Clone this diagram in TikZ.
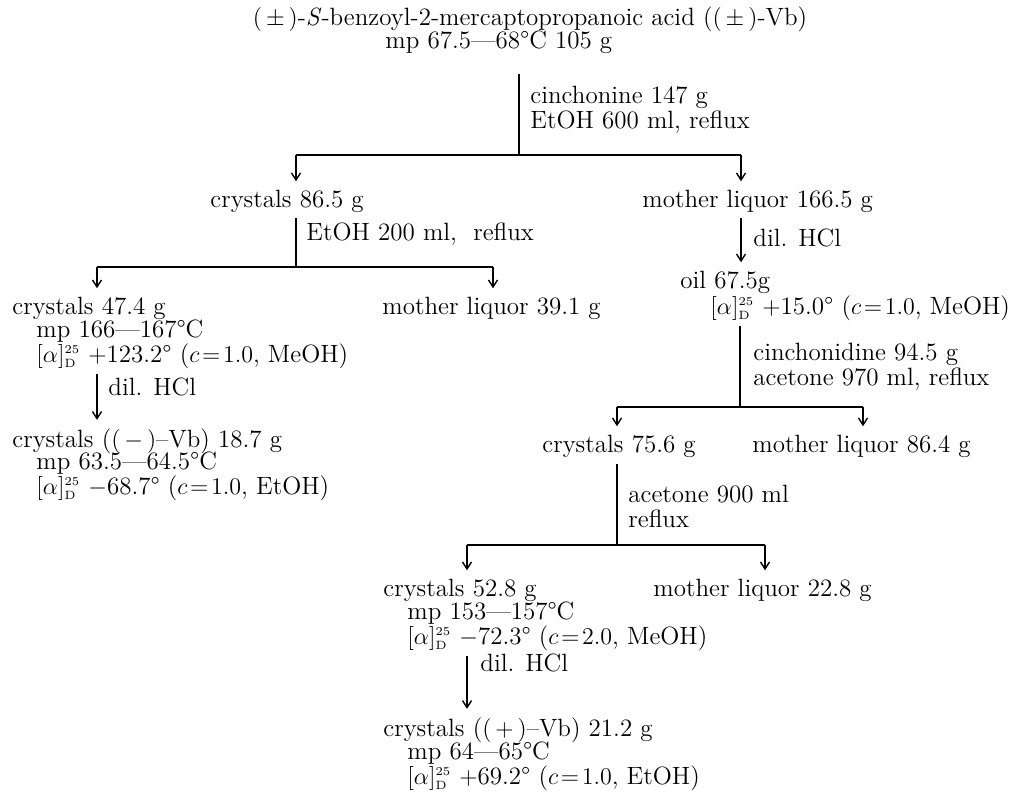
\documentclass[tikz,border=0pt]{standalone}
\usepackage{tikz}
\usetikzlibrary{arrows.meta}
\newcommand{\sprot}{$[\alpha]^{\scriptscriptstyle 25}_{\scriptscriptstyle\mathrm{D}}$}

\begin{document}
\begin{tikzpicture}[
  x=0.5pt, y=-0.5pt,
  font=\fontsize{12.5}{12.5}\selectfont,
  txt/.style={anchor=base west, inner sep=0pt},
  hd/.style={anchor=base, inner sep=0pt},
  cond/.style={anchor=west, align=left, inner sep=0pt},
  ln/.style={line width=0.7pt},
  lk/.style={line width=0.7pt, shorten >=4pt,
             -{Straight Barb[length=3.5pt,width=4.5pt]}},
]
\useasboundingbox (0,0) rectangle (1015,794);
% Racemate
\node[hd] (rac) at (530,25) {$(\,\pm\,)$-\textit{S}-benzoyl-2-mercaptopropanoic acid ($(\,\pm\,)$-Vb)};
\node[txt] (racmp) at (385,48) {mp 67.5---68°C 105 g};
\node[cond] (cnd1) at (530,110) {cinchonine 147 g\\EtOH 600 ml, reflux};
% First split
\coordinate (s1) at (519,155);
\coordinate (s1l) at (296,155);
\coordinate (s1r) at (741,155);
\node[txt] (c865) at (210,207) {crystals 86.5 g};
\node[txt] (ml1665) at (642,207) {mother liquor 166.5 g};
% Left lane
\coordinate (s2) at (296,267);
\coordinate (s2l) at (97,267);
\coordinate (s2r) at (493,267);
\node[txt] (cnd2) at (306,240) {EtOH 200 ml,\ \ reflux};
\node[txt] (c474) at (12,314) {crystals 47.4 g};
\node[txt] (ml391) at (382,314) {mother liquor 39.1 g};
\node[txt] (c474mp) at (36,337) {mp 166---167°C};
\node[txt] (c474rot) at (36,362) {\sprot\ $+$123.2° ($c\!=\!1.0$, MeOH)};
\node[txt] (hcl1) at (108,395) {dil. HCl};
\node[txt] (cmin) at (12,447) {crystals ($(\,-\,)$--Vb) 18.7 g};
\node[txt] (cminmp) at (36,469) {mp 63.5---64.5°C};
\node[txt] (cminrot) at (36,494) {\sprot\ $-$68.7° ($c\!=\!1.0$, EtOH)};
% Right lane
\node[txt] (hcl2) at (753,246) {dil. HCl};
\node[txt] (oil) at (680,288) {oil 67.5g};
\node[txt] (oilrot) at (710,314) {\sprot\ $+$15.0° ($c\!=\!1.0$, MeOH)};
\node[cond] (cnd3) at (753,367) {cinchonidine 94.5 g\\acetone 970 ml, reflux};
\coordinate (s3) at (740,407);
\coordinate (s3l) at (617,407);
\coordinate (s3r) at (863,407);
\node[txt] (c756) at (542,452) {crystals 75.6 g};
\node[txt] (ml864) at (752,452) {mother liquor 86.4 g};
\node[cond] (cnd4) at (628,506) {acetone 900 ml\\reflux};
\coordinate (s4) at (617,545);
\coordinate (s4l) at (467,545);
\coordinate (s4r) at (765,545);
\node[txt] (c528) at (383,596) {crystals 52.8 g};
\node[txt] (ml228) at (653,596) {mother liquor 22.8 g};
\node[txt] (c528mp) at (407,619) {mp 153---157°C};
\node[txt] (c528rot) at (407,644) {\sprot\ $-$72.3° ($c\!=\!2.0$, MeOH)};
\node[txt] (hcl3) at (480,671) {dil. HCl};
\node[txt] (cplus) at (383,736) {crystals ($(\,+\,)$--Vb) 21.2 g};
\node[txt] (cplusmp) at (407,759) {mp 64---65°C};
\node[txt] (cplusrot) at (407,784) {\sprot\ $+$69.2° ($c\!=\!1.0$, EtOH)};
% Connectors
\draw[ln, shorten <=10pt] (racmp.south -| s1) -- (s1);
\draw[ln] (s1l) -- (s1r);
\draw[lk] (s1l) -- (s1l |- c865.north);
\draw[lk] (s1r) -- (s1r |- ml1665.north);
\draw[ln, shorten <=2.5pt] (c865.south -| s2) -- (s2);
\draw[ln] (s2l) -- (s2r);
\draw[lk] (s2l) -- (s2l |- c474.north);
\draw[lk] (s2r) -- (s2r |- ml391.north);
\draw[lk, shorten <=2.5pt] (c474rot.south -| s2l) -- (s2l |- cmin.north);
\draw[lk, shorten <=2.5pt] (ml1665.south -| s1r) -- (s1r |- oil.north);
\draw[ln, shorten <=2.5pt] (oilrot.south -| s3) -- (s3);
\draw[ln] (s3l) -- (s3r);
\draw[lk] (s3l) -- (s3l |- c756.north);
\draw[lk] (s3r) -- (s3r |- ml864.north);
\draw[ln, shorten <=3pt] (c756.south -| s4) -- (s4);
\draw[ln] (s4l) -- (s4r);
\draw[lk] (s4l) -- (s4l |- c528.north);
\draw[lk] (s4r) -- (s4r |- ml228.north);
\draw[lk, shorten <=2.5pt] (c528rot.south -| s4l) -- (s4l |- cplus.north);
\end{tikzpicture}
\end{document}
